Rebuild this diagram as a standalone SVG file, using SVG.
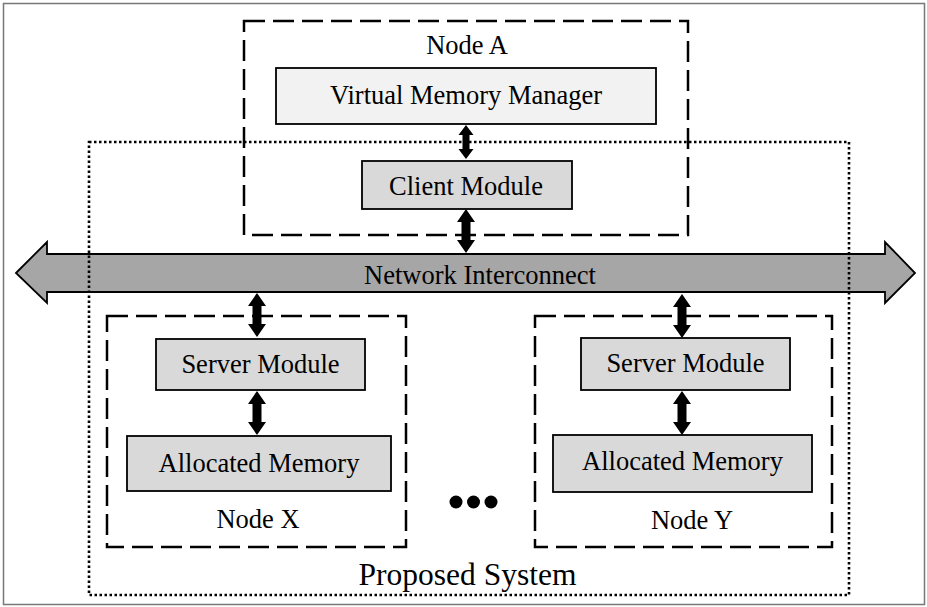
<svg xmlns="http://www.w3.org/2000/svg" xmlns:xlink="http://www.w3.org/1999/xlink" width="927" height="607" viewBox="0 0 927 607">
<style>
  .t { font-family: "Liberation Serif", "Times New Roman", serif; font-size: 26.5px; fill: #000; text-anchor: middle; }
  .big { font-size: 31.5px; }
  .node { fill: none; stroke: #000; stroke-width: 2.5; stroke-dasharray: 21 8; }
  .box { stroke: #000; stroke-width: 1.8; }
  .light { fill: #f2f2f2; }
  .mid { fill: #d9d9d9; }
  .dbl { fill: #000; stroke: none; }
</style>
<defs>
  <path id="arr" d="M0,0 L9,13 L4.5,13 L4.5,31 L9,31 L0,44 L-9,31 L-4.5,31 L-4.5,13 L-9,13 Z"/>
</defs>
<rect x="0" y="0" width="927" height="607" fill="#fff"/>
<rect x="3.5" y="3.5" width="921" height="601" fill="none" stroke="#777" stroke-width="1.5"/>

<g id="network">
  <polygon points="16,273 47,242 47,254 885,254 885,242 915,273 885,303 885,292 47,292 47,303" fill="#a6a6a6" stroke="#000" stroke-width="1.8" stroke-linejoin="miter"/>
  <text class="t" x="480" y="284">Network Interconnect</text>
</g>

<g id="proposed-system">
  <rect x="89" y="142" width="760" height="453" fill="none" stroke="#000" stroke-width="2.6" stroke-dasharray="2.5 2.5"/>
  <text class="t big" x="467.5" y="585">Proposed System</text>
</g>

<g id="node-a">
  <rect class="node" x="244" y="21" width="444" height="214"/>
  <text class="t" x="467" y="54">Node A</text>
  <g id="vmm">
    <rect class="box light" x="276" y="68" width="380" height="56"/>
    <text class="t" x="466" y="104">Virtual Memory Manager</text>
  </g>
  <g id="client">
    <rect class="box mid" x="362" y="161" width="210" height="48"/>
    <text class="t" x="466" y="195">Client Module</text>
  </g>
</g>

<g id="node-x">
  <rect class="node" x="107" y="316" width="299" height="231"/>
  <g id="server-x">
    <rect class="box mid" x="156" y="339" width="209" height="51"/>
    <text class="t" x="260.5" y="373">Server Module</text>
  </g>
  <g id="alloc-x">
    <rect class="box mid" x="127" y="436" width="264" height="55"/>
    <text class="t" x="259" y="472">Allocated Memory</text>
  </g>
  <text class="t" x="258" y="528">Node X</text>
</g>

<g id="node-y">
  <rect class="node" x="535" y="316" width="297" height="231"/>
  <g id="server-y">
    <rect class="box mid" x="581" y="338" width="209" height="52"/>
    <text class="t" x="685.5" y="372">Server Module</text>
  </g>
  <g id="alloc-y">
    <rect class="box mid" x="553" y="435" width="259" height="57"/>
    <text class="t" x="682.5" y="470">Allocated Memory</text>
  </g>
  <text class="t" x="692" y="529">Node Y</text>
</g>

<g id="ellipsis" fill="#000">
  <circle cx="456" cy="502" r="6.5"/>
  <circle cx="473.5" cy="502" r="6.5"/>
  <circle cx="491" cy="502" r="6.5"/>
</g>

<g id="connectors" class="dbl">
  <polygon points="466,125 473.5,135 469.5,135 469.5,149 473.5,149 466,159 458.5,149 462.5,149 462.5,135 458.5,135"/>
  <use xlink:href="#arr" href="#arr" x="466" y="209"/>
  <use xlink:href="#arr" href="#arr" x="257" y="293"/>
  <use xlink:href="#arr" href="#arr" x="257" y="391"/>
  <use xlink:href="#arr" href="#arr" x="682" y="294"/>
  <use xlink:href="#arr" href="#arr" x="682" y="391"/>
</g>
</svg>
